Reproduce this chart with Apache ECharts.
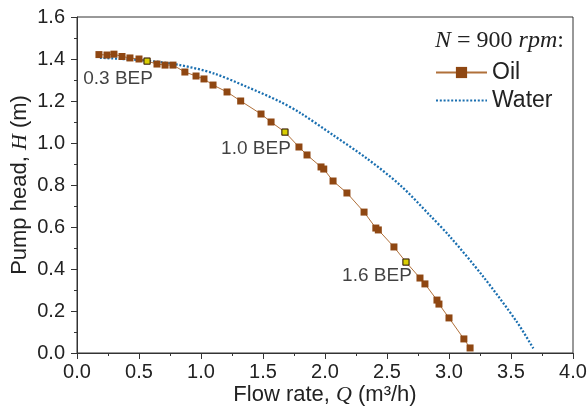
<!DOCTYPE html>
<html>
<head>
<meta charset="utf-8">
<script src="https://cdn.jsdelivr.net/npm/echarts@6/dist/echarts.min.js"></script>
<style>
html,body{margin:0;padding:0;background:#fff;}
#c{width:588px;height:414px;}
</style>
</head>
<body>
<div id="c"></div>
<script>
// Oil (N = 900 rpm) measured points
const oilQ = [0.177,0.242,0.298,0.363,0.427,0.500,0.565,0.645,0.710,0.774,0.870,0.960,1.024,1.097,1.210,1.320,1.484,1.565,1.677,1.790,1.855,1.968,1.990,2.065,2.177,2.315,2.410,2.430,2.556,2.653,2.766,2.806,2.903,2.919,3.000,3.120,3.170];
const oilH = [1.421,1.419,1.423,1.412,1.405,1.400,1.390,1.376,1.371,1.371,1.338,1.319,1.305,1.276,1.243,1.200,1.138,1.100,1.052,0.981,0.943,0.886,0.876,0.819,0.762,0.671,0.595,0.586,0.505,0.433,0.357,0.329,0.252,0.233,0.167,0.067,0.024];
// Water curve
const waterQ = [0.185,0.562,0.830,1.100,1.368,1.637,1.798,2.067,2.336,2.605,2.847,3.008,3.277,3.546,3.680];
const waterH = [1.406,1.392,1.371,1.332,1.268,1.197,1.144,1.037,0.927,0.800,0.655,0.554,0.363,0.149,0.022];
// BEP markers (indices into oil arrays) and their labels
const bepIdx = [6,18,29];
const bepLabels = ['0.3 BEP','1.0 BEP','1.6 BEP'];
const bepOffsets = [[-29,18],[-29,17],[-29,14]];
// axis ticks
const xTicks = {min:0, max:4, interval:0.5};
const yTicks = {min:0, max:1.6, interval:0.2};

const sans = 'Liberation Sans, Arial, sans-serif';
const serif = 'Liberation Serif, Times New Roman, serif';

const chart = echarts.init(document.getElementById('c'), null, {renderer:'canvas'});
const axisCommon = {
  axisLine:{show:true, lineStyle:{color:'#333', width:1}},
  axisTick:{show:true, inside:false, length:6, lineStyle:{color:'#333'}},
  minorTick:{show:true, splitNumber:2, length:3, lineStyle:{color:'#333'}},
  splitLine:{show:false},
  nameLocation:'middle',
  nameMoveOverlap:false,
  nameTextStyle:{color:'#222', fontSize:22, fontFamily:sans,
    rich:{i:{fontStyle:'italic', fontFamily:serif, fontSize:22, color:'#222'}}}
};
chart.setOption({
  animation:false,
  backgroundColor:'#fff',
  grid:{left:77, right:15, top:17, bottom:61, containLabel:false, outerBoundsMode:'none',
    show:true, borderColor:'#333', borderWidth:1, backgroundColor:'transparent'},
  title:{
    text:'{i|N} = 900 {i|rpm}:',
    left:435, top:29, padding:0,
    textStyle:{fontFamily:serif, fontSize:24, fontWeight:'normal', color:'#222', lineHeight:24,
      rich:{i:{fontStyle:'italic', fontFamily:serif, fontSize:24, color:'#222'}}}
  },
  legend:{
    data:[{name:'Oil'},{name:'Water', itemStyle:{opacity:0}}],
    orient:'vertical', left:435, top:61, padding:0,
    itemWidth:51, itemHeight:14, itemGap:5,
    textStyle:{fontFamily:sans, fontSize:23, color:'#222', lineHeight:22}
  },
  xAxis:Object.assign({}, axisCommon, {
    type:'value', min:xTicks.min, max:xTicks.max, interval:xTicks.interval,
    axisLabel:{color:'#222', fontSize:20, fontFamily:sans, margin:9, formatter:v=>v.toFixed(1)},
    name:'Flow rate, {i|Q} (m³/h)', nameGap:31
  }),
  yAxis:Object.assign({}, axisCommon, {
    type:'value', min:yTicks.min, max:yTicks.max, interval:yTicks.interval,
    axisLabel:{color:'#222', fontSize:20, fontFamily:sans, margin:12, formatter:v=>v.toFixed(1)},
    name:'Pump head, {i|H} (m)', nameGap:46, nameRotate:90
  }),
  series:[
    {
      name:'Water', type:'line', smooth:0.3, symbol:'none', z:2,
      data:waterQ.map((q,i)=>[q, waterH[i]]),
      lineStyle:{color:'#1a6fb0', width:2.3, type:[2,1.8]},
      itemStyle:{color:'#1a6fb0'}
    },
    {
      name:'Oil', type:'line', symbol:'rect', symbolSize:7, z:3,
      data:oilQ.map((q,i)=>[q, oilH[i]]),
      lineStyle:{color:'#b0703a', width:1},
      itemStyle:{color:'#8f4712', borderColor:'#8f4712', borderWidth:0}
    },
    {
      name:'BEP', type:'scatter', symbol:'rect', symbolSize:6, z:5,
      data:bepIdx.map((k,j)=>({
        value:[oilQ[k], oilH[k]],
        label:{show:true, position:'inside', offset:bepOffsets[j], formatter:bepLabels[j],
          color:'#111', fontFamily:sans, fontSize:19}
      })),
      itemStyle:{color:'#eef000', borderColor:'#111', borderWidth:1}
    }
  ]
});
</script>
</body>
</html>
